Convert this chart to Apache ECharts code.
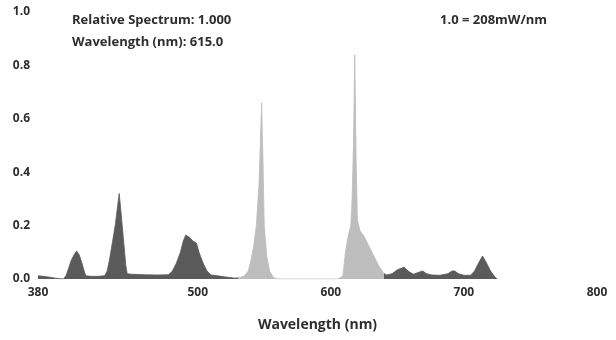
<!DOCTYPE html>
<html>
<head>
<meta charset="utf-8">
<script src="https://cdn.jsdelivr.net/npm/echarts@6/dist/echarts.min.js"></script>
<style>
  html, body { margin: 0; padding: 0; background: #fff; }
  #chartBox { width: 616px; height: 340px; }
</style>
</head>
<body>
<div id="chartBox"></div>
<script>
// spectrum
const wavelengths = [380, 384, 390, 393, 394, 399, 401, 403, 405, 407, 409, 410, 411, 413, 415, 416,
  420, 425, 430, 432, 434, 436, 438, 440, 441, 442, 444, 446, 447, 450, 460, 470, 478,
  481, 484, 487, 489, 491, 492, 494, 497, 499, 501, 504, 507, 510, 515, 520, 524, 528,
  532, 535, 538, 540, 542, 544, 546, 547, 548, 549, 550, 552, 554, 557, 560, 605,
  609, 611, 613, 615, 616, 617, 618, 619, 620, 622, 625, 628, 632, 636, 640, 642,
  646, 650, 653, 655, 658, 662, 666, 669, 672, 676, 682, 688, 691, 693, 696, 700,
  705, 708, 711, 714, 717, 720, 723, 725];
const relative = [0.012, 0.01, 0.006, 0.003, 0, 0, 0.012, 0.04, 0.07, 0.09, 0.105, 0.1, 0.09, 0.06, 0.025, 0.012,
  0.01, 0.01, 0.012, 0.03, 0.08, 0.14, 0.2, 0.28, 0.32, 0.27, 0.16, 0.05, 0.02, 0.018, 0.016, 0.015, 0.016,
  0.03, 0.06, 0.1, 0.14, 0.165, 0.17, 0.155, 0.14, 0.135, 0.1, 0.06, 0.03, 0.015, 0.012, 0.008, 0.006, 0.003,
  0.006, 0.012, 0.03, 0.07, 0.12, 0.2, 0.35, 0.5, 0.66, 0.45, 0.2, 0.08, 0.03, 0.005, 0, 0,
  0.01, 0.1, 0.16, 0.2, 0.3, 0.5, 0.84, 0.45, 0.22, 0.18, 0.16, 0.13, 0.09, 0.05, 0.02, 0.015,
  0.02, 0.035, 0.04, 0.045, 0.03, 0.018, 0.025, 0.03, 0.02, 0.015, 0.014, 0.02, 0.03, 0.03, 0.02, 0.014,
  0.014, 0.03, 0.06, 0.086, 0.06, 0.03, 0.01, 0];
const xTickLabels = [380, 500, 600, 700, 800];
const yTickLabels = ['0.0', '0.2', '0.4', '0.6', '0.8', '1.0'];

const FONT = '"Open Sans", "Noto Sans", sans-serif';
const dark = '#5a5a5a';
const light = '#bdbdbd';

const myChart = echarts.init(document.getElementById('chartBox'));
const option = {
  backgroundColor: '#fff',
  animation: false,
  grid: { left: 38, right: 19, top: 12, bottom: 61 },
  graphic: [
    { type: 'text', left: 72, top: 14, style: { text: 'Relative Spectrum: 1.000', font: 'bold 13px ' + FONT, fill: '#2e2e2e' } },
    { type: 'text', left: 72, top: 36, style: { text: 'Wavelength (nm): 615.0', font: 'bold 13px ' + FONT, fill: '#2e2e2e' } },
    { type: 'text', left: 440, top: 14, style: { text: '1.0 = 208mW/nm', font: 'bold 13px ' + FONT, fill: '#2e2e2e' } }
  ],
  xAxis: {
    type: 'value',
    min: 380,
    max: 800,
    interval: 20,
    name: 'Wavelength (nm)',
    nameLocation: 'middle',
    nameGap: 39,
    nameTextStyle: { fontFamily: FONT, fontWeight: 'bold', fontSize: 14, color: '#2e2e2e' },
    axisLine: { show: false },
    axisTick: { show: false },
    splitLine: { show: false },
    axisLabel: {
      margin: 8,
      fontFamily: FONT, fontWeight: 'bold', fontSize: 12, color: '#2e2e2e',
      formatter: v => (xTickLabels.indexOf(v) >= 0 ? String(v) : '')
    }
  },
  yAxis: {
    type: 'value',
    min: 0,
    max: 1,
    interval: 0.2,
    axisLine: { show: false },
    axisTick: { show: false },
    splitLine: { show: false },
    axisLabel: {
      margin: 8,
      fontFamily: FONT, fontWeight: 'bold', fontSize: 12, color: '#2e2e2e',
      formatter: v => yTickLabels[Math.round(v / 0.2)]
    }
  },
  visualMap: {
    show: false,
    type: 'piecewise',
    dimension: 0,
    seriesIndex: 0,
    pieces: [
      { lt: 530, color: dark },
      { gte: 530, lt: 640, color: light },
      { gte: 640, color: dark }
    ]
  },
  series: [{
    type: 'line',
    data: wavelengths.map((w, i) => [w, relative[i]]),
    showSymbol: false,
    lineStyle: { width: 0.8 },
    areaStyle: { opacity: 1 }
  }]
};
myChart.setOption(option);
</script>
</body>
</html>
